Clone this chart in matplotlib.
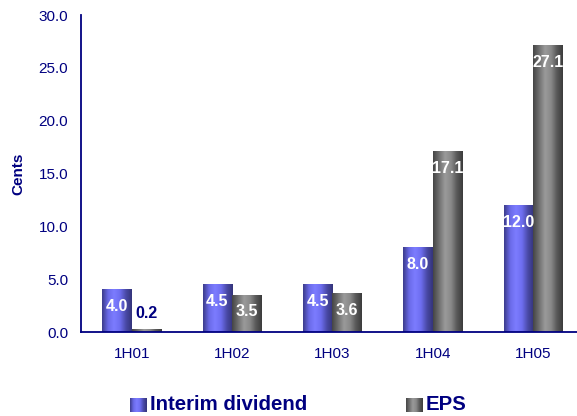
import numpy as np
import matplotlib
matplotlib.use("Agg")
import matplotlib.pyplot as plt
from matplotlib.colors import LinearSegmentedColormap

plt.rcParams["font.family"] = ["Liberation Sans", "DejaVu Sans"]

periods = ["1H01", "1H02", "1H03", "1H04", "1H05"]
interim_dividend = [4.0, 4.5, 4.5, 8.0, 12.0]
eps = [0.2, 3.5, 3.6, 17.1, 27.1]
series_names = ["Interim dividend", "EPS"]

navy = "#000080"
blue_cmap = LinearSegmentedColormap.from_list(
    "blue_cyl", ["#3c3c8c", "#6a6ae8", "#7c7cff", "#6e6ef0", "#4a4aa8", "#34347a"])
grey_cmap = LinearSegmentedColormap.from_list(
    "grey_cyl", ["#454545", "#707070", "#9a9a9a", "#8a8a8a", "#5a5a5a", "#3c3c3c"])

fig = plt.figure(figsize=(5.77, 4.16), dpi=100)
ax = fig.add_axes([0.1412, 0.2019, 0.870, 0.762])

x = np.arange(len(periods))
w = 0.294
grad = np.linspace(0, 1, 64).reshape(1, -1)


def gradient_bars(xs, vals, cmap):
    bars = ax.bar(xs, vals, w, align="edge", color="none", edgecolor="none")
    for b in bars:
        x0, h = b.get_x(), b.get_height()
        ax.imshow(grad, cmap=cmap, extent=[x0, x0 + w, 0, h],
                  aspect="auto", zorder=2, interpolation="bicubic")
    return bars


gradient_bars(x - w, interim_dividend, blue_cmap)
gradient_bars(x, eps, grey_cmap)

# value labels
for xs, vals in [(x - w / 2, interim_dividend), (x + w / 2, eps)]:
    for xi, v in zip(xs, vals):
        if v < 1.5:
            ax.annotate("%.1f" % v, (xi, v), xytext=(0, 11.5), textcoords="offset points",
                        ha="center", va="center", color=navy, fontsize=11.5,
                        fontweight="bold", zorder=5)
        else:
            ax.annotate("%.1f" % v, (xi, v), xytext=(0, -12.2), textcoords="offset points",
                        ha="center", va="center", color="white", fontsize=11.5,
                        fontweight="bold", zorder=5)

ax.set_xlim(-0.5, len(periods) - 0.5)
ax.set_ylim(0, 30)
ax.set_yticks(np.arange(0, 31, 5))
ax.set_yticklabels(["%.1f" % t for t in np.arange(0, 31, 5)])
ax.set_xticks(x)
ax.set_xticklabels(periods)
ax.tick_params(axis="y", length=0, pad=9.5, labelsize=11, labelcolor=navy)
ax.tick_params(axis="x", length=0, pad=11, labelsize=11, labelcolor=navy)
for s in ["top", "right"]:
    ax.spines[s].set_visible(False)
for s in ["left", "bottom"]:
    ax.spines[s].set_color(navy)
    ax.spines[s].set_linewidth(1.3)
ax.set_ylabel("Cents", color=navy, fontsize=11, fontweight="bold")
ax.yaxis.set_label_coords(-0.112, 0.5)

# legend drawn by hand so the swatches keep the shading
W, H = 577.0, 416.0
for (px, tx), name, cmap in zip([(130, 150), (406, 426)], series_names, [blue_cmap, grey_cmap]):
    sw = fig.add_axes([px / W, (H - 412) / H, 17 / W, 14 / H])
    sw.imshow(grad, cmap=cmap, aspect="auto", interpolation="bicubic")
    sw.axis("off")
    fig.text(tx / W, (H - 405) / H, name, color=navy, fontsize=14.7,
             fontweight="bold", ha="left", va="center")

fig.savefig("out.png", dpi=100)
